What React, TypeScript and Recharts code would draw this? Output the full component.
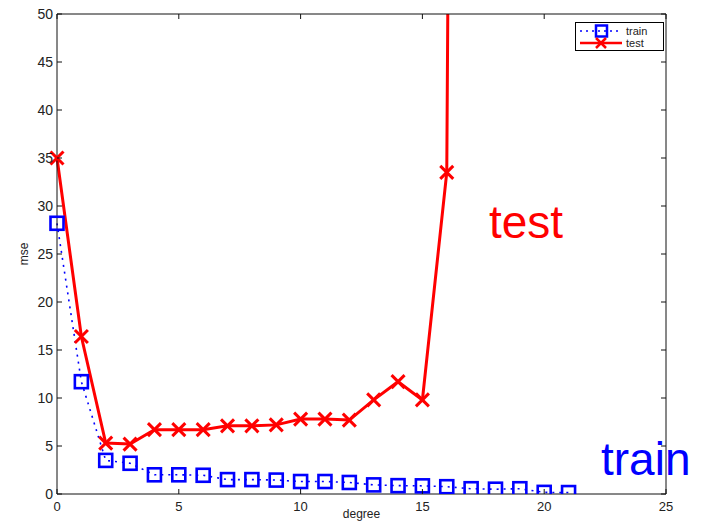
import React from 'react';
import { LineChart, Line, XAxis, YAxis, Legend } from 'recharts';

// Polynomial degree vs. mean squared error
const degrees = [0, 1, 2, 3, 4, 5, 6, 7, 8, 9, 10, 11, 12, 13, 14, 15, 16, 17, 18, 19, 20, 21];
const trainMse = [28.2, 11.7, 3.5, 3.2, 2.0, 2.0, 1.95, 1.5, 1.5, 1.45, 1.3, 1.3, 1.2, 0.95, 0.87, 0.85, 0.76, 0.55, 0.5, 0.55, 0.17, 0.15];
const testMse: (number | null)[] = [35, 16.4, 5.3, 5.2, 6.7, 6.7, 6.7, 7.1, 7.1, 7.2, 7.8, 7.8, 7.7, 9.8, 11.7, 9.8, 33.5, 430, null, null, null, null];
const xTicks = [0, 5, 10, 15, 20, 25];
const yTicks = [0, 5, 10, 15, 20, 25, 30, 35, 40, 45, 50];

const data = degrees.map((d, i) => ({ degree: d, train: trainMse[i], test: testMse[i] }));

const FONT = '"Liberation Sans", Arial, Helvetica, sans-serif';
const BLUE = '#0000ff';
const RED = '#ff0000';
const AXIS = '#111';
const TICK_LEN = 5;

const BottomTick = (props: any) => {
  const { x, y, payload } = props;
  return (
    <g>
      <line x1={x} y1={y} x2={x} y2={y - TICK_LEN} stroke={AXIS} strokeWidth={1} />
      <text x={x} y={y + 17} textAnchor="middle" fontSize={13} fill="#222" fontFamily={FONT}>
        {payload.value}
      </text>
    </g>
  );
};

const LeftTick = (props: any) => {
  const { x, y, payload } = props;
  return (
    <g>
      <line x1={x} y1={y} x2={x + TICK_LEN} y2={y} stroke={AXIS} strokeWidth={1} />
      <text x={x - 4} y={y} dy="0.36em" textAnchor="end" fontSize={14} fill="#222" fontFamily={FONT}>
        {payload.value}
      </text>
    </g>
  );
};

const TopTick = (props: any) => {
  const { x, y } = props;
  return <line x1={x} y1={y} x2={x} y2={y + TICK_LEN} stroke={AXIS} strokeWidth={1} />;
};

const RightTick = (props: any) => {
  const { x, y } = props;
  return <line x1={x} y1={y} x2={x - TICK_LEN} y2={y} stroke={AXIS} strokeWidth={1} />;
};

const SquareDot = (props: any) => {
  const { cx, cy, index } = props;
  if (cx == null || cy == null) return <g key={`s-${index}`} />;
  return (
    <rect key={`s-${index}`} x={cx - 6.5} y={cy - 6.5} width={13} height={13}
      fill="none" stroke={BLUE} strokeWidth={2.6} />
  );
};

const CrossDot = (props: any) => {
  const { cx, cy, index } = props;
  if (cx == null || cy == null) return <g key={`c-${index}`} />;
  const r = 6.5;
  return (
    <g key={`c-${index}`}>
      <line x1={cx - r} y1={cy - r} x2={cx + r} y2={cy + r} stroke={RED} strokeWidth={3} />
      <line x1={cx - r} y1={cy + r} x2={cx + r} y2={cy - r} stroke={RED} strokeWidth={3} />
    </g>
  );
};

const LegendBox = () => (
  <svg width={90} height={30} style={{ display: 'block' }}>
    <rect x={0.5} y={0.5} width={88} height={28} fill="#fff" stroke="#000" strokeWidth={1} />
    <line x1={5} y1={9} x2={47} y2={9} stroke={BLUE} strokeWidth={1.5} strokeDasharray="2 4" />
    <rect x={21} y={3.5} width={11} height={11} fill="none" stroke={BLUE} strokeWidth={2.5} />
    <text x={51} y={13} fontSize={11} fill="#222" fontFamily={FONT}>train</text>
    <line x1={5} y1={21} x2={47} y2={21} stroke={RED} strokeWidth={2.5} />
    <line x1={21} y1={16} x2={31} y2={26} stroke={RED} strokeWidth={2.5} />
    <line x1={21} y1={26} x2={31} y2={16} stroke={RED} strokeWidth={2.5} />
    <text x={51} y={25} fontSize={11} fill="#222" fontFamily={FONT}>test</text>
  </svg>
);

export default function App() {
  return (
    <div style={{ position: 'absolute', left: 0, top: 0, width: 702, height: 532, background: '#fff' }}>
      <LineChart width={702} height={532} data={data}
        margin={{ top: 13, right: 35, bottom: 0, left: 0 }}>
        <XAxis dataKey="degree" type="number" domain={[0, 25]} ticks={xTicks} interval={0}
          height={38} tickSize={0} tickMargin={0} tickLine={false}
          axisLine={{ stroke: AXIS, strokeWidth: 1 }} tick={<BottomTick />} />
        <XAxis xAxisId="top" orientation="top" dataKey="degree" type="number" domain={[0, 25]}
          ticks={xTicks} interval={0} height={1} tickSize={0} tickMargin={0} tickLine={false}
          axisLine={{ stroke: AXIS, strokeWidth: 1 }} tick={<TopTick />} />
        <YAxis type="number" domain={[0, 50]} allowDataOverflow ticks={yTicks} interval={0}
          width={57} tickSize={0} tickMargin={0} tickLine={false}
          axisLine={{ stroke: AXIS, strokeWidth: 1 }} tick={<LeftTick />} />
        <YAxis yAxisId="right" orientation="right" type="number" domain={[0, 50]} allowDataOverflow
          ticks={yTicks} interval={0} width={1} tickSize={0} tickMargin={0} tickLine={false}
          axisLine={{ stroke: AXIS, strokeWidth: 1 }} tick={<RightTick />} />
        <Line dataKey="train" stroke={BLUE} strokeWidth={1.6} strokeDasharray="2 5"
          dot={SquareDot} activeDot={false} isAnimationActive={false} />
        <Line dataKey="test" stroke={RED} strokeWidth={3} dot={CrossDot}
          activeDot={false} isAnimationActive={false} />
        <Legend layout="vertical" align="center" verticalAlign="middle" content={LegendBox}
          wrapperStyle={{ position: 'absolute', left: 575, top: 22, width: 90, height: 30 }} />
      </LineChart>
      <svg width={702} height={532}
        style={{ position: 'absolute', left: 0, top: 0, pointerEvents: 'none' }}>
        <text x={489} y={238} fontSize={46} fill={RED} fontFamily={FONT}>test</text>
        <text x={601} y={475} fontSize={46} fill={BLUE} fontFamily={FONT}>train</text>
        <text x={361.5} y={518} fontSize={12} fill="#222" textAnchor="middle" fontFamily={FONT}>degree</text>
        <text x={0} y={0} fontSize={12} fill="#222" textAnchor="middle" fontFamily={FONT}
          transform="translate(28 254) rotate(-90)">mse</text>
      </svg>
    </div>
  );
}
